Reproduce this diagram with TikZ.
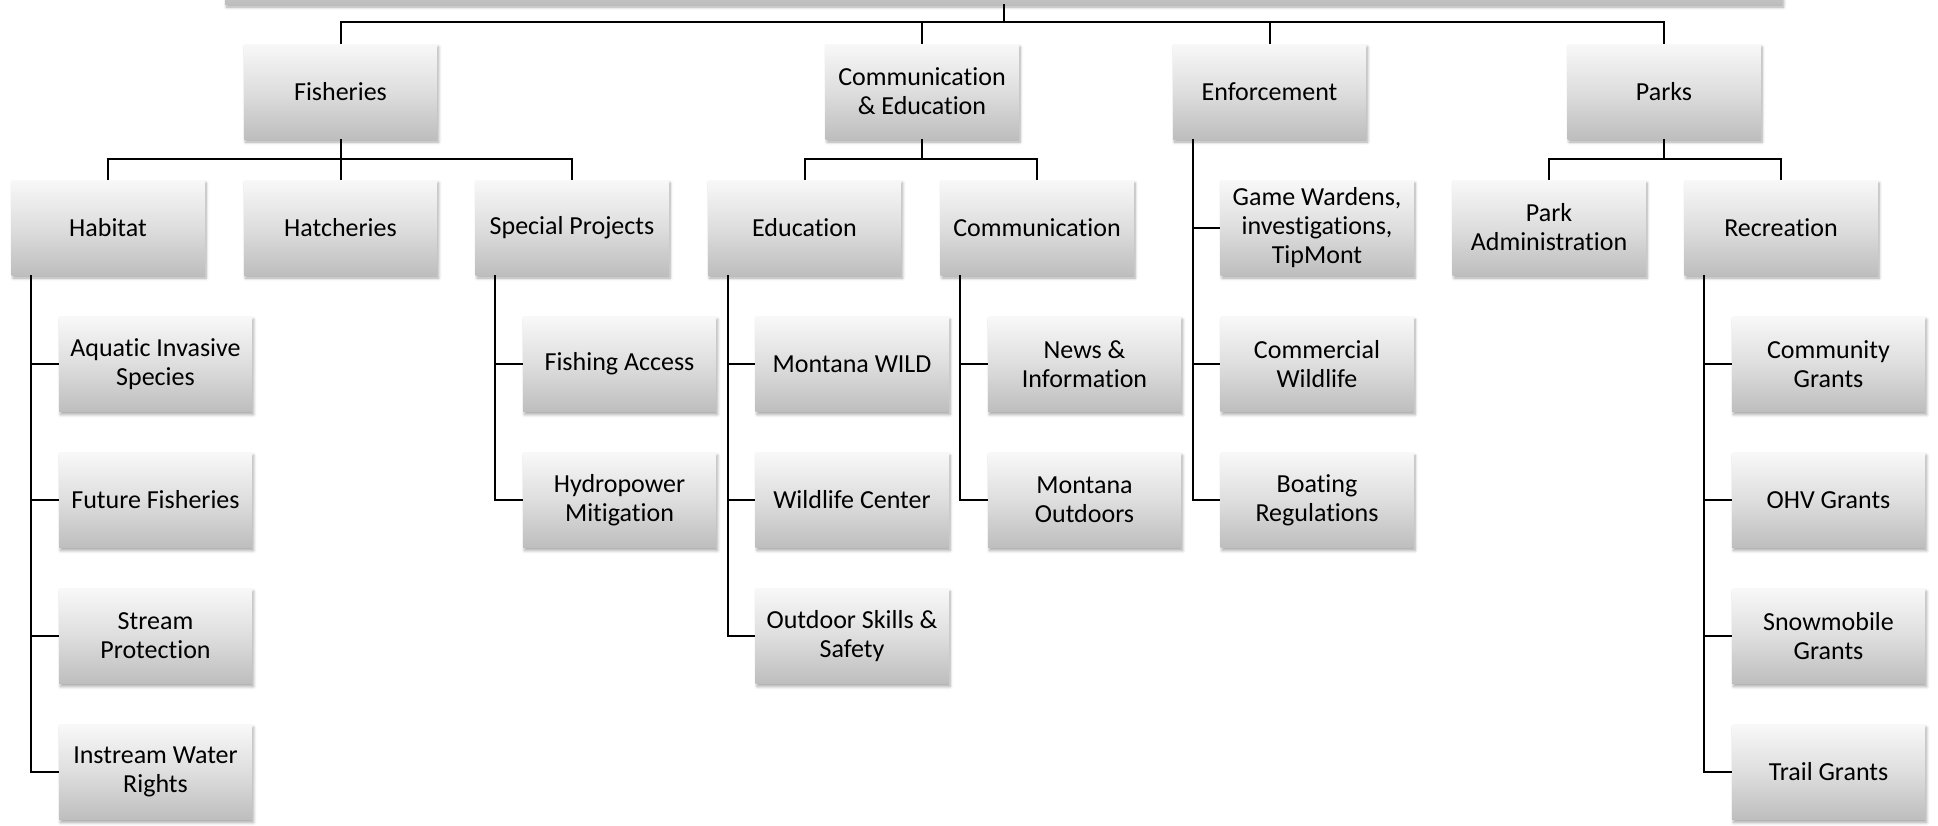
\documentclass[tikz,border=0pt]{standalone}
\usepackage{fontspec}
\setmainfont[Ligatures={NoCommon,NoContextual},RawFeature={-liga;-clig;-calt}]{Carlito}
\usetikzlibrary{shadows.blur,calc}
\definecolor{boxtop}{HTML}{F8F8F8}
\definecolor{boxbot}{HTML}{BEBEBE}
\tikzset{
  orgbox/.style={rectangle, minimum width=193pt, minimum height=95pt, inner sep=0pt,
    align=center, top color=boxtop, bottom color=boxbot, middle color=boxtop!55!boxbot,
    font=\fontsize{26}{29}\selectfont,
    blur shadow={shadow xshift=1.5pt, shadow yshift=-3pt, shadow blur steps=6, shadow blur radius=3pt, shadow opacity=35}},
  link/.style={draw=black, line width=2pt}
}
\begin{document}
\begin{tikzpicture}[x=1pt,y=-1pt]
\useasboundingbox (0,0) rectangle (1938,825);
\clip (0,0) rectangle (1938,825);
\node[orgbox, minimum width=1557pt] (top) at (1003.5,-43.5) {};
% level 1
\node[orgbox] (fish) at (340.5,91.5) {Fisheries};
\node[orgbox] (ce) at (922,91.5) {Communication\\\& Education};
\node[orgbox] (enf) at (1269.5,91.5) {Enforcement};
\node[orgbox] (parks) at (1664,91.5) {Parks};
% level 2
\node[orgbox] (hab) at (108,227.5) {Habitat};
\node[orgbox] (hatch) at (340.5,227.5) {Hatcheries};
\node[orgbox] (sp) at (572,227.5) {Special Projects};
\node[orgbox] (edu) at (804.5,227.5) {Education};
\node[orgbox] (comm) at (1037,227.5) {Communication};
\node[orgbox] (gw) at (1317,227.5) {Game Wardens,\\investigations,\\TipMont};
\node[orgbox] (pa) at (1549,227.5) {Park\\Administration};
\node[orgbox] (rec) at (1781,227.5) {Recreation};
% habitat children
\node[orgbox] (ais) at (155.5,364) {Aquatic Invasive\\Species};
\node[orgbox] (ff) at (155.5,500) {Future Fisheries};
\node[orgbox] (stp) at (155.5,636) {Stream\\Protection};
\node[orgbox] (iwr) at (155.5,772) {Instream Water\\Rights};
% special projects children
\node[orgbox] (fa) at (619.5,364) {Fishing Access};
\node[orgbox] (hm) at (619.5,500) {Hydropower\\Mitigation};
% education children
\node[orgbox] (mw) at (852,364) {Montana WILD};
\node[orgbox] (wc) at (852,500) {Wildlife Center};
\node[orgbox] (oss) at (852,636) {Outdoor Skills \&\\Safety};
% communication children
\node[orgbox] (ni) at (1084.5,364) {News \&\\Information};
\node[orgbox] (mo) at (1084.5,500) {Montana\\Outdoors};
% enforcement children
\node[orgbox] (cw) at (1317,364) {Commercial\\Wildlife};
\node[orgbox] (br) at (1317,500) {Boating\\Regulations};
% recreation children
\node[orgbox] (cg) at (1828.5,364) {Community\\Grants};
\node[orgbox] (ohv) at (1828.5,500) {OHV Grants};
\node[orgbox] (sg) at (1828.5,636) {Snowmobile\\Grants};
\node[orgbox] (tg) at (1828.5,772) {Trail Grants};
% connectors: top
\draw[link] (top.south) -- ++(0,18) -| (fish.north);
\draw[link] (top.south) -- ++(0,18) -| (ce.north);
\draw[link] (top.south) -- ++(0,18) -| (enf.north);
\draw[link] (top.south) -- ++(0,18) -| (parks.north);
% fisheries
\draw[link] (fish.south) -- ++(0,20) -| (hab.north);
\draw[link] (fish.south) -- (hatch.north);
\draw[link] (fish.south) -- ++(0,20) -| (sp.north);
% comm & ed
\draw[link] (ce.south) -- ++(0,20) -| (edu.north);
\draw[link] (ce.south) -- ++(0,20) -| (comm.north);
% parks
\draw[link] (parks.south) -- ++(0,20) -| (pa.north);
\draw[link] (parks.south) -- ++(0,20) -| (rec.north);
% side children
\foreach \p/\c in {hab/ais,hab/ff,hab/stp,hab/iwr,sp/fa,sp/hm,edu/mw,edu/wc,edu/oss,comm/ni,comm/mo,enf/gw,enf/cw,enf/br,rec/cg,rec/ohv,rec/sg,rec/tg}
  \draw[link] ([xshift=20pt]\p.south west) |- (\c.west);
\end{tikzpicture}
\end{document}
